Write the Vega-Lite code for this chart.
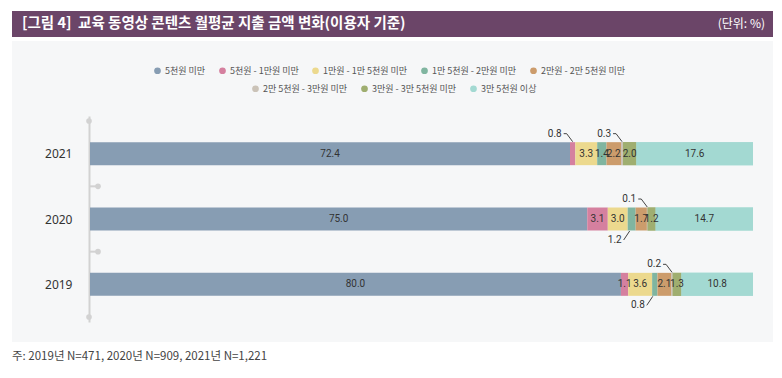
{
  "$schema": "https://vega.github.io/schema/vega-lite/v6.json",
  "padding": {"left": 12, "top": 11, "right": 0, "bottom": 0},
  "autosize": {"type": "pad"},
  "background": "white",
  "spacing": 4,
  "config": {"view": {"stroke": null}, "font": "Noto Sans CJK KR"},
  "datasets": {
    "bars": [
      {"year": 2021, "cat": "5천원 미만", "ord": 1, "value": 72.4, "lbl": "in"},
      {"year": 2021, "cat": "5천원 - 1만원 미만", "ord": 2, "value": 0.8, "lbl": "up"},
      {"year": 2021, "cat": "1만원 - 1만 5천원 미만", "ord": 3, "value": 3.3, "lbl": "in"},
      {"year": 2021, "cat": "1만 5천원 - 2만원 미만", "ord": 4, "value": 1.4, "lbl": "in"},
      {"year": 2021, "cat": "2만원 - 2만 5천원 미만", "ord": 5, "value": 2.2, "lbl": "in"},
      {"year": 2021, "cat": "2만 5천원 - 3만원 미만", "ord": 6, "value": 0.3, "lbl": "up"},
      {"year": 2021, "cat": "3만원 - 3만 5천원 미만", "ord": 7, "value": 2.0, "lbl": "in"},
      {"year": 2021, "cat": "3만 5천원 이상", "ord": 8, "value": 17.6, "lbl": "in"},
      {"year": 2020, "cat": "5천원 미만", "ord": 1, "value": 75.0, "lbl": "in"},
      {"year": 2020, "cat": "5천원 - 1만원 미만", "ord": 2, "value": 3.1, "lbl": "in"},
      {"year": 2020, "cat": "1만원 - 1만 5천원 미만", "ord": 3, "value": 3.0, "lbl": "in"},
      {"year": 2020, "cat": "1만 5천원 - 2만원 미만", "ord": 4, "value": 1.2, "lbl": "down"},
      {"year": 2020, "cat": "2만원 - 2만 5천원 미만", "ord": 5, "value": 1.7, "lbl": "in"},
      {"year": 2020, "cat": "2만 5천원 - 3만원 미만", "ord": 6, "value": 0.1, "lbl": "up"},
      {"year": 2020, "cat": "3만원 - 3만 5천원 미만", "ord": 7, "value": 1.2, "lbl": "in"},
      {"year": 2020, "cat": "3만 5천원 이상", "ord": 8, "value": 14.7, "lbl": "in"},
      {"year": 2019, "cat": "5천원 미만", "ord": 1, "value": 80.0, "lbl": "in"},
      {"year": 2019, "cat": "5천원 - 1만원 미만", "ord": 2, "value": 1.1, "lbl": "in"},
      {"year": 2019, "cat": "1만원 - 1만 5천원 미만", "ord": 3, "value": 3.6, "lbl": "in"},
      {"year": 2019, "cat": "1만 5천원 - 2만원 미만", "ord": 4, "value": 0.8, "lbl": "down"},
      {"year": 2019, "cat": "2만원 - 2만 5천원 미만", "ord": 5, "value": 2.1, "lbl": "in"},
      {"year": 2019, "cat": "2만 5천원 - 3만원 미만", "ord": 6, "value": 0.2, "lbl": "up"},
      {"year": 2019, "cat": "3만원 - 3만 5천원 미만", "ord": 7, "value": 1.3, "lbl": "in"},
      {"year": 2019, "cat": "3만 5천원 이상", "ord": 8, "value": 10.8, "lbl": "in"}
    ],
    "guides": [
      {"gy": 2021.5, "kind": "end"},
      {"gy": 2020.5, "kind": "mid"},
      {"gy": 2019.5, "kind": "mid"},
      {"gy": 2018.5, "kind": "end"}
    ]
  },
  "vconcat": [
    {
      "width": 761,
      "height": 26,
      "view": {"fill": "#6b4568", "stroke": null},
      "data": {"values": [
        {"txt": "[그림 4]\u00a0 교육 동영상 콘텐츠 월평균 지출 금액 변화(이용자 기준)", "side": 0},
        {"txt": "(단위: %)", "side": 1}
      ]},
      "layer": [
        {
          "transform": [{"filter": "datum.side == 0"}],
          "mark": {"type": "text", "align": "left", "baseline": "middle", "color": "white", "fontSize": 14.5, "fontWeight": "bold", "font": "Noto Sans CJK KR"},
          "encoding": {
            "x": {"field": "side", "type": "quantitative", "scale": {"domain": [0, 1], "range": [10, 753]}, "axis": null},
            "text": {"field": "txt"}
          }
        },
        {
          "transform": [{"filter": "datum.side == 1"}],
          "mark": {"type": "text", "align": "right", "baseline": "middle", "color": "white", "fontSize": 12, "font": "Noto Sans CJK KR"},
          "encoding": {
            "x": {"field": "side", "type": "quantitative", "scale": {"domain": [0, 1], "range": [10, 753]}, "axis": null},
            "text": {"field": "txt"}
          }
        }
      ]
    },
    {
      "width": 761,
      "height": 301,
      "view": {"fill": "#f6f7f8", "stroke": null},
      "title": {"text": "주: 2019년 N=471, 2020년 N=909, 2021년 N=1,221", "orient": "bottom", "anchor": "start", "offset": 9, "fontSize": 11.5, "fontWeight": "normal", "color": "#444444", "font": "Noto Sans CJK KR", "frame": "group"},
      "resolve": {"scale": {"color": "independent"}, "legend": {"color": "independent"}},
      "layer": [
        {
          "data": {"name": "bars"},
          "transform": [
            {"stack": "value", "groupby": ["year"], "sort": [{"field": "ord"}], "offset": "normalize", "as": ["x0", "x1"]}
          ],
          "mark": {"type": "bar", "size": 23},
          "encoding": {
            "x": {"field": "x0", "type": "quantitative", "scale": {"domain": [0, 1], "range": [78, 741], "nice": false, "zero": false}, "axis": null},
            "x2": {"field": "x1"},
            "y": {"field": "year", "type": "quantitative", "scale": {"domain": [2021.5, 2018.5], "range": [75, 281], "nice": false, "zero": false},
              "axis": {"values": [2019, 2020, 2021], "format": "d", "title": null, "ticks": false, "grid": false, "domain": true, "domainColor": "#d2d2d2", "domainWidth": 2, "offset": -77, "labelPadding": 17, "labelFontSize": 12, "labelColor": "#333333", "labelFont": "Noto Sans"}},
            "color": {"field": "cat", "type": "nominal",
              "scale": {"domain": ["5천원 미만", "5천원 - 1만원 미만", "1만원 - 1만 5천원 미만", "1만 5천원 - 2만원 미만", "2만원 - 2만 5천원 미만", "2만 5천원 - 3만원 미만", "3만원 - 3만 5천원 미만", "3만 5천원 이상"],
                "range": ["#879db3", "#d5809f", "#ecd98e", "#80b5a0", "#cc9c6c", "#cbc3b8", "#9fae70", "#a3d9d2"]},
              "legend": {"values": ["5천원 미만", "5천원 - 1만원 미만", "1만원 - 1만 5천원 미만", "1만 5천원 - 2만원 미만", "2만원 - 2만 5천원 미만"], "orient": "none", "legendX": 141, "legendY": 25, "direction": "horizontal", "title": null, "symbolType": "circle", "symbolSize": 45, "symbolStrokeWidth": 0, "labelFontSize": 9, "labelColor": "#555555", "labelFont": "Noto Sans CJK KR", "columnPadding": 12, "labelOffset": 3}}
          }
        },
        {
          "data": {"name": "bars"},
          "transform": [
            {"stack": "value", "groupby": ["year"], "sort": [{"field": "ord"}], "offset": "normalize", "as": ["x0", "x1"]},
            {"filter": "datum.ord >= 6"}
          ],
          "mark": {"type": "bar", "size": 23},
          "encoding": {
            "x": {"field": "x0", "type": "quantitative"},
            "x2": {"field": "x1"},
            "y": {"field": "year", "type": "quantitative"},
            "color": {"field": "cat", "type": "nominal",
              "scale": {"domain": ["2만 5천원 - 3만원 미만", "3만원 - 3만 5천원 미만", "3만 5천원 이상"], "range": ["#cbc3b8", "#9fae70", "#a3d9d2"]},
              "legend": {"orient": "none", "legendX": 239, "legendY": 43, "direction": "horizontal", "title": null, "symbolType": "circle", "symbolSize": 45, "symbolStrokeWidth": 0, "labelFontSize": 9, "labelColor": "#555555", "labelFont": "Noto Sans CJK KR", "columnPadding": 12, "labelOffset": 3}}
          }
        },
        {
          "data": {"name": "bars"},
          "transform": [
            {"stack": "value", "groupby": ["year"], "sort": [{"field": "ord"}], "offset": "normalize", "as": ["x0", "x1"]},
            {"calculate": "(datum.x0 + datum.x1) / 2", "as": "mid"},
            {"filter": "datum.lbl == 'in'"}
          ],
          "mark": {"type": "text", "align": "center", "baseline": "middle", "fontSize": 10, "color": "#333333", "font": "Roboto"},
          "encoding": {
            "x": {"field": "mid", "type": "quantitative"},
            "y": {"field": "year", "type": "quantitative"},
            "text": {"field": "value", "type": "quantitative", "format": ".1f"}
          }
        },
        {
          "data": {"name": "bars"},
          "transform": [
            {"stack": "value", "groupby": ["year"], "sort": [{"field": "ord"}], "offset": "normalize", "as": ["x0", "x1"]},
            {"calculate": "(datum.x0 + datum.x1) / 2", "as": "mid"},
            {"filter": "datum.lbl == 'up'"}
          ],
          "layer": [
            {
              "mark": {"type": "text", "align": "right", "baseline": "middle", "fontSize": 10, "color": "#333333", "xOffset": -11, "yOffset": -20, "font": "Roboto"},
              "encoding": {
                "x": {"field": "mid", "type": "quantitative"},
                "y": {"field": "year", "type": "quantitative"},
                "text": {"field": "value", "type": "quantitative", "format": ".1f"}
              }
            },
            {
              "mark": {"type": "rule", "color": "#444444", "strokeWidth": 1, "xOffset": -6, "x2Offset": 0, "yOffset": -20, "y2Offset": -12},
              "encoding": {
                "x": {"field": "mid", "type": "quantitative"},
                "x2": {"field": "mid"},
                "y": {"field": "year", "type": "quantitative"},
                "y2": {"field": "year"}
              }
            },
            {
              "mark": {"type": "rule", "color": "#444444", "strokeWidth": 1, "xOffset": -9, "x2Offset": -6, "yOffset": -20},
              "encoding": {
                "x": {"field": "mid", "type": "quantitative"},
                "x2": {"field": "mid"},
                "y": {"field": "year", "type": "quantitative"}
              }
            }
          ]
        },
        {
          "data": {"name": "bars"},
          "transform": [
            {"stack": "value", "groupby": ["year"], "sort": [{"field": "ord"}], "offset": "normalize", "as": ["x0", "x1"]},
            {"calculate": "(datum.x0 + datum.x1) / 2", "as": "mid"},
            {"filter": "datum.lbl == 'down'"}
          ],
          "layer": [
            {
              "mark": {"type": "text", "align": "right", "baseline": "middle", "fontSize": 10, "color": "#333333", "xOffset": -10, "yOffset": 21, "font": "Roboto"},
              "encoding": {
                "x": {"field": "mid", "type": "quantitative"},
                "y": {"field": "year", "type": "quantitative"},
                "text": {"field": "value", "type": "quantitative", "format": ".1f"}
              }
            },
            {
              "mark": {"type": "rule", "color": "#444444", "strokeWidth": 1, "xOffset": -8, "x2Offset": -2, "yOffset": 21, "y2Offset": 12},
              "encoding": {
                "x": {"field": "mid", "type": "quantitative"},
                "x2": {"field": "mid"},
                "y": {"field": "year", "type": "quantitative"},
                "y2": {"field": "year"}
              }
            }
          ]
        },
        {
          "data": {"name": "guides"},
          "transform": [{"filter": "datum.kind == 'mid'"}],
          "mark": {"type": "rule", "color": "#d2d2d2", "strokeWidth": 2, "xOffset": -1, "x2Offset": 8},
          "encoding": {
            "x": {"datum": 0, "type": "quantitative"},
            "x2": {"datum": 0},
            "y": {"field": "gy", "type": "quantitative"}
          }
        },
        {
          "data": {"name": "guides"},
          "transform": [{"filter": "datum.kind == 'mid'"}],
          "mark": {"type": "point", "filled": true, "size": 32, "color": "#d2d2d2", "opacity": 1, "xOffset": 8},
          "encoding": {
            "x": {"datum": 0, "type": "quantitative"},
            "y": {"field": "gy", "type": "quantitative"}
          }
        },
        {
          "data": {"name": "guides"},
          "transform": [{"filter": "datum.kind == 'end'"}],
          "mark": {"type": "point", "filled": true, "size": 32, "color": "#d2d2d2", "opacity": 1, "xOffset": -1},
          "encoding": {
            "x": {"datum": 0, "type": "quantitative"},
            "y": {"field": "gy", "type": "quantitative"}
          }
        }
      ]
    }
  ]
}
